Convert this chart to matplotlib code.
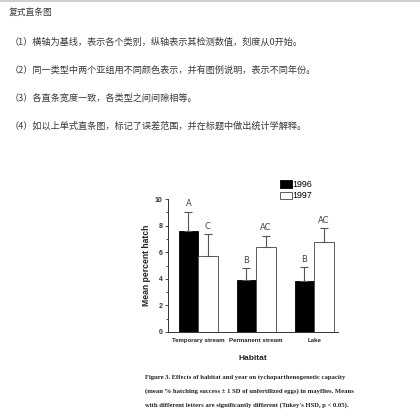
import matplotlib
matplotlib.use("Agg")
import matplotlib.pyplot as plt
import numpy as np
from matplotlib.lines import Line2D

plt.rcParams['font.family'] = ['Noto Sans CJK SC', 'DejaVu Sans']

# page text
heading = "复式直条图"
notes = [
    "（1）横轴为基线，表示各个类别，纵轴表示其检测数值，刻度从0开始。",
    "（2）同一类型中两个亚组用不同颜色表示，并有图例说明，表示不同年份。",
    "（3）各直条宽度一致，各类型之间间隙相等。",
    "（4）如以上单式直条图，标记了误差范围，并在标题中做出统计学解释。",
]

# chart data
habitats = ["Temporary stream", "Permanent stream", "Lake"]
years = ["1996", "1997"]
mean_1996 = [7.6, 3.9, 3.8]
mean_1997 = [5.7, 6.4, 6.8]
sd_1996 = [1.45, 0.9, 1.05]
sd_1997 = [1.65, 0.85, 1.0]
letters_1996 = ["A", "B", "B"]
letters_1997 = ["C", "AC", "AC"]
caption = [
    "Figure 3. Effects of habitat and year on tychoparthenogenetic capacity",
    "(mean % hatching success \u00b1 1 SD of unfertilized eggs) in mayflies. Means",
    "with different letters are significantly different (Tukey's HSD, p < 0.05).",
]

W = H = 420
fig = plt.figure(figsize=(4.2, 4.2), dpi=100)
fig.patch.set_facecolor("white")


def fy(py):
    return 1 - py / H


# thin gray rule at the top of the page
fig.add_artist(Line2D([0, 1], [fy(1), fy(1)], color="#cfcfcf", lw=1.5))

fig.text(9 / W, fy(12), heading, fontsize=6.3, color="#3a3a3a", va="center")
note_y = [42, 70, 98, 126]
for txt, y in zip(notes, note_y):
    fig.text(10 / W, fy(y), txt, fontsize=6.6, color="#3a3a3a", va="center")

# bar chart
ax = fig.add_axes([168 / W, fy(332), 170 / W, 133 / H])
x = np.arange(len(habitats))
w = 0.335
err_style = dict(ecolor="#555555", elinewidth=0.8, capsize=3.2, capthick=0.8)
b1 = ax.bar(x - w / 2, mean_1996, w, color="black", edgecolor="black", lw=0.6,
            yerr=[np.zeros(3), sd_1996], error_kw=err_style, label=years[0])
b2 = ax.bar(x + w / 2, mean_1997, w, color="white", edgecolor="#444444", lw=0.6,
            yerr=[np.zeros(3), sd_1997], error_kw=err_style, label=years[1])

for i in range(len(habitats)):
    ax.text(x[i] - w / 2, mean_1996[i] + sd_1996[i] + 0.25, letters_1996[i],
            ha="center", va="bottom", fontsize=6, color="#444444", family="DejaVu Sans")
    ax.text(x[i] + w / 2, mean_1997[i] + sd_1997[i] + 0.25, letters_1997[i],
            ha="center", va="bottom", fontsize=6, color="#444444", family="DejaVu Sans")

ax.set_xlim(-0.52, 2.41)
ax.set_ylim(0, 10)
ax.set_yticks([0, 2, 4, 6, 8, 10])
ax.set_yticks(np.arange(1, 10, 2), minor=True)
ax.set_xticks(x)
ax.set_xticklabels(habitats, fontsize=4.4, fontweight="bold", family="Liberation Sans", color="#222222")
ax.tick_params(axis="x", length=0, pad=4)
ax.tick_params(axis="y", which="major", length=2.5, width=0.6, labelsize=5.0, pad=1.5, colors="#333333")
ax.tick_params(axis="y", which="minor", length=1.5, width=0.5)
for lab in ax.get_yticklabels():
    lab.set_fontweight("bold")
    lab.set_family("Liberation Sans")
for side in ["top", "right"]:
    ax.spines[side].set_visible(False)
for side in ["left", "bottom"]:
    ax.spines[side].set_linewidth(0.7)
    ax.spines[side].set_color("#333333")
ax.set_ylabel("Mean percent hatch", fontsize=6.2, fontweight="bold", family="Liberation Sans",
              labelpad=3, color="#222222")
ax.set_xlabel("Habitat", fontsize=6.0, fontweight="bold", family="Liberation Sans",
              labelpad=9, color="#222222")

leg = fig.legend(handles=[b1, b2], labels=years, loc="upper left",
                 bbox_to_anchor=(274 / W, fy(174)), frameon=False,
                 prop=dict(family="Liberation Sans", size=6.4),
                 handlelength=1.3, handleheight=0.9, handletextpad=0.1,
                 labelspacing=0.25, borderpad=0.2)

for i, line in enumerate(caption):
    fig.text(145 / W, fy(377 + 14 * i), line, fontsize=4.8, family="Liberation Serif",
             fontweight="bold", color="#222222", va="center")

fig.savefig("out.png", dpi=100, facecolor="white")
